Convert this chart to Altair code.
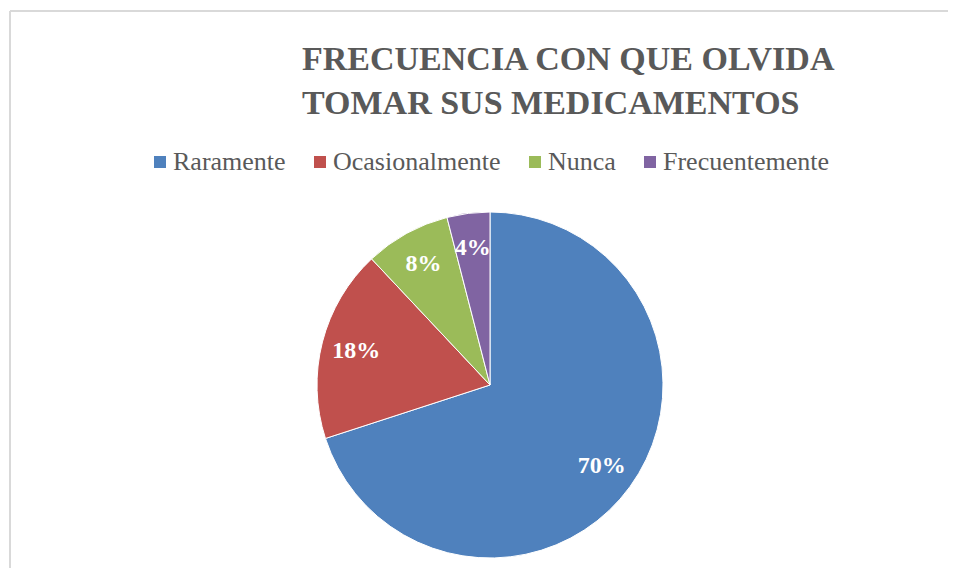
import altair as alt
import pandas as pd

categories = ["Raramente", "Ocasionalmente", "Nunca", "Frecuentemente"]
values = [70, 18, 8, 4]
labels = ["70%", "18%", "8%", "4%"]
colors = ["#4F81BD", "#C0504D", "#9BBB59", "#8064A2"]
title_lines = ["FRECUENCIA CON QUE OLVIDA", "TOMAR SUS MEDICAMENTOS"]

df = pd.DataFrame({
    "cat": categories,
    "val": values,
    "lab": labels,
    "idx": list(range(len(categories))),
})

W, H = 700, 354
PL, PT = 132, 200

base = alt.Chart(df).encode(
    theta=alt.Theta("val:Q", stack=True),
    order=alt.Order("idx:Q"),
)

pie = base.mark_arc(outerRadius=173, stroke="#ffffff", strokeWidth=1).encode(
    color=alt.Color(
        "cat:N",
        scale=alt.Scale(domain=categories, range=colors),
        sort=categories,
        legend=alt.Legend(
            title=None,
            orient="none",
            legendX=7,
            legendY=-59,
            direction="horizontal",
            symbolType="square",
            symbolSize=144,
            symbolStrokeWidth=0,
            labelFont="Liberation Serif",
            labelFontSize=26,
            labelColor="#595959",
            labelOffset=0,
            labelLimit=400,
            columnPadding=21,
            padding=0,
        ),
    )
)

text = base.mark_text(
    radius=138,
    font="Liberation Serif",
    fontWeight="bold",
    fontSize=24,
    color="white",
).encode(text="lab:N")

border_top = alt.Chart(df).mark_rule(color="#D9D9D9", strokeWidth=2).encode(
    x=alt.value(-PL + 2), x2=alt.value(W + 200), y=alt.value(-PT + 3)
)
border_left = alt.Chart(df).mark_rule(color="#D9D9D9", strokeWidth=2).encode(
    x=alt.value(-PL + 2), y=alt.value(-PT + 3), y2=alt.value(H + 20)
)

chart = alt.layer(border_top, border_left, pie, text).properties(
    width=W,
    height=H,
    autosize=alt.AutoSizeParams(type="none"),
    padding={"left": PL, "top": PT, "right": 108, "bottom": 6},
    title=alt.TitleParams(
        text=title_lines,
        frame="group",
        anchor="start",
        align="left",
        baseline="alphabetic",
        offset=0,
        dx=162,
        dy=138,
        font="Liberation Serif",
        fontWeight="bold",
        fontSize=34,
        lineHeight=44,
        color="#595959",
    ),
).configure_view(stroke=None)

chart.save("out.html", embed_options={"renderer": "svg", "actions": False})
